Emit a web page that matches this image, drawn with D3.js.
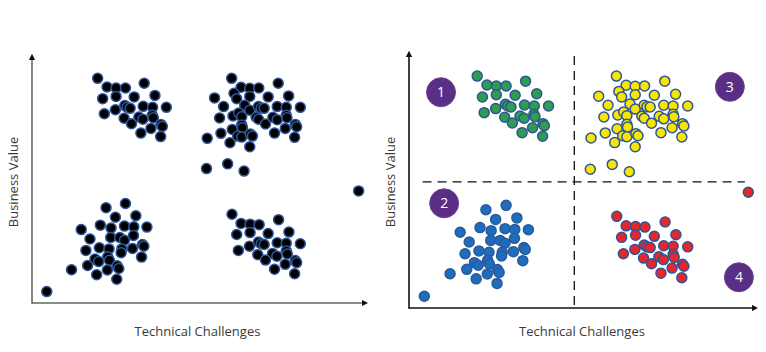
<!DOCTYPE html>
<html>
<head>
<meta charset="utf-8">
<script src="https://cdn.jsdelivr.net/npm/d3@7"></script>
<style>
  body { margin: 0; background: #fff; }
  svg text { font-family: "Open Sans", sans-serif; }
</style>
</head>
<body>
<div id="chart"></div>
<script>
// values on a 0-100 scale for both axes: [technical challenges, business value]
const cluster1 = [ // top-left (green)
  [19.6, 90.6], [22.4, 87.1], [25.1, 86.7], [27.9, 86.7], [33.5, 88.6],
  [21.1, 82.4], [25.1, 83.3], [30.5, 83.1], [36.7, 83.7], [21.6, 76.3],
  [24.9, 77.9], [27.7, 79.6], [28.4, 78.9], [29.3, 78.5], [33.2, 79.3],
  [36.0, 78.9], [40.1, 78.9], [27.5, 74.5], [31.9, 75.0], [33.1, 74.1],
  [35.9, 75.7], [36.2, 74.7], [29.7, 72.3], [35.5, 70.4], [38.5, 72.0],
  [38.9, 71.2], [32.5, 68.5], [38.4, 67.1]
];
const cluster2 = [ // bottom-left (blue)
  [22.1, 38.4], [27.9, 40.1], [24.9, 34.6], [31.0, 35.2], [14.7, 29.6],
  [20.4, 31.4], [23.6, 30.2], [27.6, 31.0], [30.4, 30.7], [34.3, 30.6],
  [17.3, 25.8], [23.5, 26.4], [26.2, 26.4], [27.6, 25.3], [30.3, 27.2],
  [33.0, 23.6], [33.4, 22.9], [16.1, 21.2], [20.1, 22.3], [23.0, 21.8],
  [26.8, 21.8], [26.6, 20.3], [30.0, 22.0], [32.7, 18.5], [18.8, 17.7],
  [19.9, 16.7], [22.6, 18.6], [23.1, 17.2], [11.8, 13.4], [16.6, 15.1],
  [22.5, 13.3], [25.4, 15.0], [25.9, 13.9], [19.3, 11.4], [25.3, 9.6],
  [4.4, 4.6]
];
const cluster3 = [ // top-right (yellow)
  [59.6, 90.6], [62.4, 87.0], [65.0, 86.6], [67.7, 86.7], [60.3, 84.6],
  [65.0, 83.3], [54.5, 82.7], [61.1, 82.4], [70.5, 83.1], [57.2, 79.2],
  [63.5, 79.7], [65.0, 77.7], [67.6, 79.2], [68.4, 78.6], [69.3, 78.5],
  [56.0, 74.6], [60.0, 75.4], [61.7, 76.6], [62.6, 75.1], [66.9, 74.9],
  [67.6, 74.1], [69.7, 72.2], [62.6, 71.8], [62.8, 70.7], [59.8, 70.0],
  [56.4, 68.4], [52.3, 66.4], [61.4, 67.3], [62.6, 66.9], [65.2, 68.1],
  [65.8, 67.3], [59.1, 64.6], [65.0, 63.0], [52.1, 54.2], [58.4, 56.1],
  [63.3, 53.2], [73.5, 88.6], [76.6, 83.5], [73.2, 79.2], [75.9, 78.9],
  [80.1, 78.9], [71.9, 74.9], [73.2, 73.9], [75.9, 75.7], [76.1, 74.7],
  [72.4, 68.5], [75.6, 70.4], [78.6, 72.0], [79.0, 71.1], [78.4, 66.8]
];
const cluster4 = [ // bottom-right (red)
  [59.7, 35.8], [62.4, 32.1], [65.1, 31.8], [67.8, 31.6], [73.6, 33.6],
  [61.1, 27.6], [65.1, 28.4], [70.5, 28.0], [76.7, 28.6], [61.6, 21.2],
  [64.9, 22.9], [67.6, 24.6], [68.4, 23.9], [69.3, 23.6], [73.2, 24.3],
  [75.9, 24.1], [80.1, 23.9], [67.4, 19.5], [71.8, 20.0], [73.1, 18.9],
  [75.9, 21.0], [76.2, 19.8], [69.7, 17.3], [75.6, 15.6], [78.6, 17.1],
  [79.0, 16.3], [72.4, 13.6], [78.4, 11.8], [97.5, 45.2]
];

const clusterColors = ["#2e9d4f", "#1f6cbd", "#f7e600", "#e5262b"];

// quadrant split and badge positions (same 0-100 units)
const splitX = 47.5, splitY = 49.3;
const badges = [
  { label: "1", x: 9.2, y: 84.3 },
  { label: "2", x: 10.1, y: 40.9 },
  { label: "3", x: 92.2, y: 86.4 },
  { label: "4", x: 94.8, y: 12.0 }
];

const xTitle = "Technical Challenges";
const yTitle = "Business Value";

const svg = d3.select("#chart").append("svg")
  .attr("width", 766)
  .attr("height", 352);

const clusters = [cluster1, cluster2, cluster3, cluster4];
const allPoints = clusters.flatMap((c, i) => c.map(p => ({ x: p[0], y: p[1], group: i })));

function drawPanel(opts) {
  const x = d3.scaleLinear().domain([0, 100]).range([opts.left, opts.right]);
  const y = d3.scaleLinear().domain([0, 100]).range([opts.bottom, opts.top]);
  const g = svg.append("g");

  // arrow marker
  const id = "arrow" + opts.key;
  svg.append("defs").append("marker")
    .attr("id", id)
    .attr("viewBox", "0 0 10 10")
    .attr("refX", 5).attr("refY", 5)
    .attr("markerWidth", 4).attr("markerHeight", 4)
    .attr("orient", "auto")
    .append("path")
    .attr("d", "M0,0 L10,5 L0,10 z")
    .attr("fill", "#111");

  // axes
  g.append("line")
    .attr("x1", opts.left).attr("x2", opts.left)
    .attr("y1", opts.bottom + 0.75).attr("y2", opts.top + 2)
    .attr("stroke", opts.axisColor).attr("stroke-width", 1.6)
    .attr("marker-end", `url(#${id})`);
  g.append("line")
    .attr("x1", opts.left).attr("x2", opts.right - 2)
    .attr("y1", opts.bottom).attr("y2", opts.bottom)
    .attr("stroke", opts.axisColor).attr("stroke-width", 1.6)
    .attr("marker-end", `url(#${id})`);

  if (opts.quadrants) {
    g.append("line")
      .attr("x1", x(splitX)).attr("x2", x(splitX))
      .attr("y1", y(98.4)).attr("y2", opts.bottom)
      .attr("stroke", "#111").attr("stroke-width", 1.3)
      .attr("stroke-dasharray", "9,6");
    g.append("line")
      .attr("x1", x(3.9)).attr("x2", x(96.5))
      .attr("y1", y(splitY)).attr("y2", y(splitY))
      .attr("stroke", "#111").attr("stroke-width", 1.3)
      .attr("stroke-dasharray", "9,6");
  }

  g.selectAll("circle.dot")
    .data(allPoints)
    .enter()
    .append("circle")
    .attr("class", "dot")
    .attr("cx", d => x(d.x))
    .attr("cy", d => y(d.y))
    .attr("r", 5)
    .attr("fill", d => opts.quadrants ? clusterColors[d.group] : "#000")
    .attr("stroke", d => opts.quadrants && d.group === 1 ? "#285b9c" : "#2f5597")
    .attr("stroke-width", 1.5);

  if (opts.quadrants) {
    const b = g.selectAll("g.badge")
      .data(badges)
      .enter()
      .append("g")
      .attr("class", "badge")
      .attr("transform", d => `translate(${x(d.x)},${y(d.y)})`);
    b.append("circle")
      .attr("r", 14.5)
      .attr("fill", "#5a2e85")
      .attr("stroke", "#6b4494")
      .attr("stroke-width", 1);
    b.append("text")
      .attr("text-anchor", "middle")
      .attr("dy", "0.36em")
      .attr("font-size", "14px")
      .attr("fill", "#fff")
      .text(d => d.label);
  }

  // axis titles
  svg.append("text")
    .attr("x", (opts.left + opts.right) / 2 + opts.xTitleShift)
    .attr("y", 336)
    .attr("text-anchor", "middle")
    .attr("font-size", "13px")
    .attr("fill", "#3a3a3a")
    .text(xTitle);
  svg.append("text")
    .attr("transform", `translate(${opts.left - 14},${182}) rotate(-90)`)
    .attr("text-anchor", "middle")
    .attr("font-size", "13px")
    .attr("fill", "#3a3a3a")
    .text(yTitle);
}

drawPanel({ key: "L", left: 32, right: 367, top: 55, bottom: 303,
  axisColor: "#666", quadrants: false, xTitleShift: -2 });
drawPanel({ key: "R", left: 409, right: 757, top: 52, bottom: 308,
  axisColor: "#111", quadrants: true, xTitleShift: -1 });
</script>
</body>
</html>
